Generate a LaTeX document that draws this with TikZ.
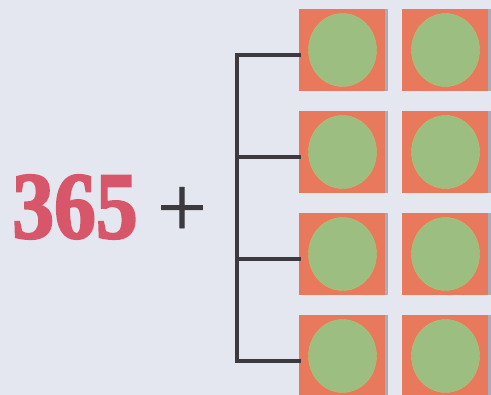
\documentclass[tikz,border=0pt]{standalone}
\usepackage{fontspec}
\newfontfamily\digitfont[BoldFeatures={FakeBold=2.5}]{Liberation Serif}
\newfontfamily\plusfont[FakeBold=0.8]{Liberation Serif}
\usetikzlibrary{shapes.geometric}
\definecolor{paper}{HTML}{E4E7EF}
\definecolor{tileorange}{HTML}{E8795C}
\definecolor{tilegray}{HTML}{A9ACB9}
\definecolor{ballgreen}{HTML}{9DBE81}
\definecolor{numred}{HTML}{D8566A}
\definecolor{inkgray}{HTML}{3C3A3E}
\tikzset{
    tile/.style={fill=tileorange, minimum width=89pt, minimum height=82pt,
                 inner sep=0pt,
                 path picture={\fill[tilegray]
                     (path picture bounding box.north east) rectangle
                     ([xshift=-3.5pt]path picture bounding box.south east);}},
    ball/.style={ellipse, fill=ballgreen, draw=ballgreen!85!yellow,
                 line width=0.4pt, minimum width=68pt, minimum height=73pt,
                 inner sep=0pt},
    arm/.style={draw=inkgray, line width=4pt, line cap=rect},
}

\begin{document}
\begin{tikzpicture}[x=1pt, y=-1pt]
    \fill[paper] (0,0) rectangle (491,395);
    \path[use as bounding box] (0,0) rectangle (491,395);

    \node[text=numred, inner sep=0pt, xscale=0.88]
        (year) at (75,207) {\digitfont\bfseries\fontsize{95}{95}\selectfont 365};
    \node[text=inkgray, inner sep=0pt]
        (plus) at (182,212) {\plusfont\fontsize{88}{88}\selectfont +};

    \foreach \r/\y in {1/50,2/152,3/254,4/356} {
        \node[tile] (sq\r1) at (343.5,\y) {};
        \node[ball] (ball\r1) at ([xshift=-1pt]sq\r1.center) {};
        \node[tile] (sq\r2) at (446.5,\y) {};
        \node[ball] (ball\r2) at ([xshift=-1pt]sq\r2.center) {};
        \draw[arm] ([yshift=-5pt]sq\r1.west) -- ++(-62,0) coordinate (arm\r);
    }
    \draw[arm] (arm1) -- (arm4);
\end{tikzpicture}
\end{document}
